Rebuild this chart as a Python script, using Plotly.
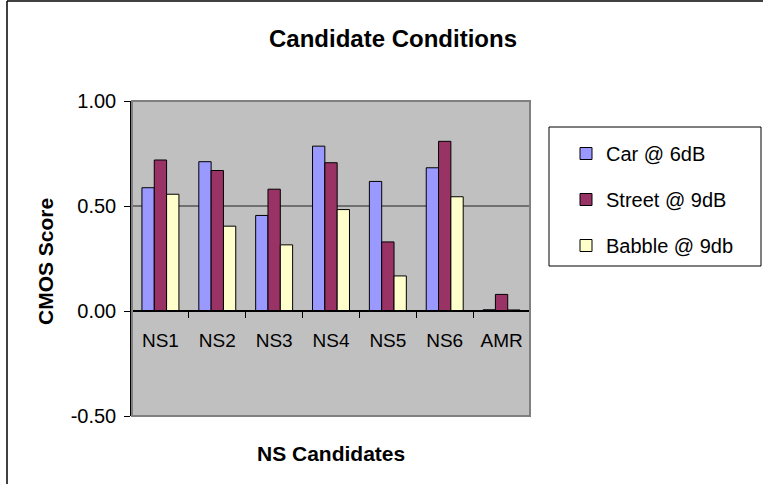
import plotly.graph_objects as go

categories = ["NS1", "NS2", "NS3", "NS4", "NS5", "NS6", "AMR"]
car_6db = [0.587, 0.711, 0.455, 0.785, 0.617, 0.682, 0.006]
street_9db = [0.719, 0.669, 0.580, 0.706, 0.329, 0.808, 0.079]
babble_9db = [0.556, 0.404, 0.315, 0.483, 0.167, 0.544, 0.005]
series_names = ["Car @ 6dB", "Street @ 9dB", "Babble @ 9db"]
series_colors = ["#9999FF", "#993366", "#FFFFCC"]
y_ticks = [-0.5, 0.0, 0.5, 1.0]
y_tick_labels = ["-0.50", "0.00", "0.50", "1.00"]
y_range = [-0.5, 1.0]

W, H = 768, 484
PL, PR, PT, PB = 132, 530, 101, 416  # plot area in pixels
FONT = "Liberation Sans, Arial, sans-serif"


def px_x(px):
    return (px - PL) / (PR - PL)


def px_y(py):
    return (PB - py) / (PB - PT)


fig = go.Figure()
for name, vals, col in zip(series_names, [car_6db, street_9db, babble_9db], series_colors):
    fig.add_trace(go.Bar(
        x=categories, y=vals, name=name, legendgroup=name,
        marker=dict(color=col, line=dict(color="black", width=1)),
    ))

zero_pos = (0 - y_range[0]) / (y_range[1] - y_range[0])

fig.update_layout(
    width=W, height=H, autosize=False,
    margin=dict(l=PL, r=W - PR, t=PT, b=H - PB, pad=0),
    paper_bgcolor="white", plot_bgcolor="#C0C0C0",
    font=dict(family=FONT, size=19, color="black"),
    barmode="group", bargap=0.35, bargroupgap=0,
    title=dict(text="<b>Candidate Conditions</b>", x=393 / W, xref="container",
               xanchor="center", y=1 - 39 / H, yref="container", yanchor="middle",
               font=dict(size=24, family=FONT, color="black")),
    showlegend=True,
    legend=dict(x=px_x(566), y=px_y(134), xanchor="left", yanchor="top",
                bgcolor="rgba(0,0,0,0)", borderwidth=0,
                font=dict(size=20, family=FONT), traceorder="grouped",
                tracegroupgap=17),
    xaxis=dict(anchor="free", position=zero_pos, showline=True, linecolor="black",
               linewidth=1.5, ticks="outside", tickson="boundaries", ticklen=6,
               tickcolor="black", tickwidth=1, showgrid=False, zeroline=False,
               tickfont=dict(size=19), ticklabelstandoff=12),
    yaxis=dict(range=y_range, tickvals=y_ticks, ticktext=y_tick_labels, showline=True,
               linecolor="black", linewidth=1.5, ticks="outside", ticklen=6,
               tickcolor="black", showgrid=True, gridcolor="#707070", gridwidth=1.5,
               zeroline=False, tickfont=dict(size=20), ticklabelstandoff=4),
    shapes=[
        # plot-area border (gray)
        dict(type="rect", xref="x domain", yref="y domain", x0=0, x1=1, y0=0, y1=1,
             line=dict(color="#808080", width=2), layer="above"),
        # legend box
        dict(type="rect", xref="paper", yref="paper", x0=px_x(549), x1=px_x(761),
             y0=px_y(266), y1=px_y(127), line=dict(color="black", width=1)),
        # chart frame (left and top edges)
        dict(type="line", xref="paper", yref="paper", x0=px_x(7), x1=px_x(7),
             y0=px_y(485), y1=px_y(1), line=dict(color="black", width=1.5)),
        dict(type="line", xref="paper", yref="paper", x0=px_x(7), x1=px_x(763),
             y0=px_y(1), y1=px_y(1), line=dict(color="black", width=1.5)),
    ],
    annotations=[
        dict(text="<b>CMOS Score</b>", xref="paper", yref="paper", x=px_x(45),
             y=px_y(262), textangle=-90, showarrow=False, xanchor="center",
             yanchor="middle", font=dict(size=21, family=FONT)),
        dict(text="<b>NS Candidates</b>", xref="paper", yref="paper", x=px_x(331),
             y=px_y(453), showarrow=False, xanchor="center", yanchor="middle",
             font=dict(size=21, family=FONT)),
    ],
)

fig.write_html("out.html", config={"displayModeBar": False},
               post_script="document.body.style.margin='0';")
